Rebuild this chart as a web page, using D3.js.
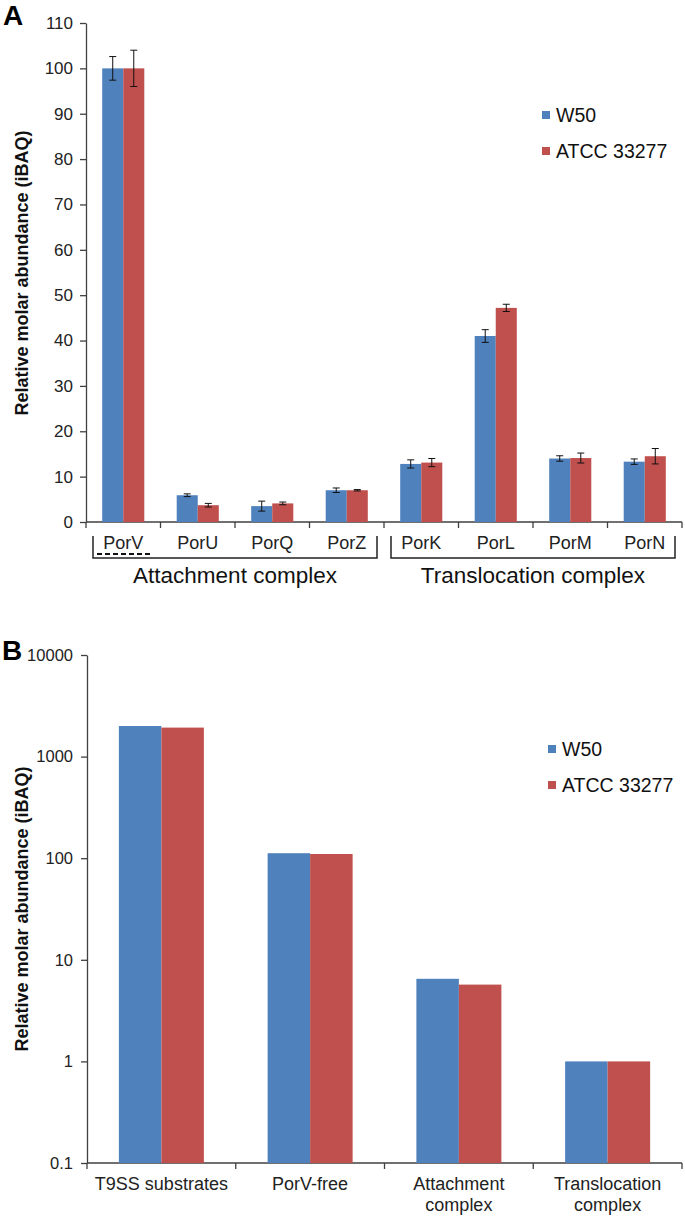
<!DOCTYPE html>
<html lang="en">
<head>
  <meta charset="UTF-8" />
  <title>Relative molar abundance of T9SS components</title>
  <style>
    body { margin: 0; background: #ffffff; font-family: "Liberation Sans", Arial, sans-serif; }
    svg { display: block; }
    .axis path, .axis line { stroke: #404040; stroke-width: 1.3px; }
    .axis text { fill: #222; font-family: "Liberation Sans", Arial, sans-serif; }
    .err { stroke: #111; stroke-width: 1px; }
  </style>
  <script src="https://d3js.org/d3.v7.min.js"></script>
</head>
<body>
  <svg id="chart" width="685" height="1216"></svg>
  <script>
    const series = ["W50", "ATCC 33277"];
    const colors = ["#4F81BD", "#C0504D"];

    // Panel A: individual components (linear, with error bars)
    const catsA = ["PorV", "PorU", "PorQ", "PorZ", "PorK", "PorL", "PorM", "PorN"];
    const w50A = [100, 5.9, 3.5, 7.0, 12.8, 41.0, 14.0, 13.3];
    const w50ErrA = [2.6, 0.3, 1.1, 0.5, 0.9, 1.4, 0.6, 0.6];
    const atccA = [100, 3.7, 4.1, 7.0, 13.1, 47.2, 14.1, 14.5];
    const atccErrA = [4.0, 0.4, 0.3, 0.15, 0.9, 0.8, 1.1, 1.7];
    const ticksA = [0, 10, 20, 30, 40, 50, 60, 70, 80, 90, 100, 110];

    // Panel B: summed groups (log scale)
    const catsB = [["T9SS substrates"], ["PorV-free"], ["Attachment", "complex"], ["Translocation", "complex"]];
    const w50B = [2000, 112, 6.5, 1.0];
    const atccB = [1930, 110, 5.7, 1.0];
    const ticksB = [0.1, 1, 10, 100, 1000, 10000];

    const svg = d3.select("#chart");

    function yTitle(cy) {
      svg.append("text")
        .attr("transform", `translate(28,${cy}) rotate(-90)`)
        .attr("text-anchor", "middle")
        .attr("font-weight", "bold")
        .attr("font-size", 18)
        .attr("fill", "#111")
        .text("Relative molar abundance (iBAQ)");
    }

    function legend(x, y0) {
      series.forEach((s, i) => {
        const y = y0 + i * 36;
        svg.append("rect").attr("x", x).attr("y", y - 4).attr("width", 8).attr("height", 8).attr("fill", colors[i]);
        svg.append("text").attr("x", x + 14).attr("y", y + 7)
          .attr("font-size", 19.5).attr("fill", "#111").text(s);
      });
    }

    // ---------- Panel A ----------
    const xA = d3.scaleBand().domain(catsA).range([86, 682]);
    const x1A = d3.scaleBand().domain(series).range([0, xA.bandwidth()]).paddingOuter(0.77);
    const yA = d3.scaleLinear().domain([0, 110]).range([522, 23]);

    svg.append("text").attr("x", 3).attr("y", 25).attr("font-size", 28).attr("font-weight", "bold").text("A");

    svg.append("g").attr("class", "axis")
      .attr("transform", "translate(86,0)")
      .call(d3.axisLeft(yA).tickValues(ticksA).tickSize(6).tickSizeOuter(0).tickPadding(7))
      .call(g => g.selectAll("text").attr("font-size", 17));

    const xAxisA = svg.append("g").attr("class", "axis").attr("transform", "translate(0,522)");
    xAxisA.append("line").attr("x1", 86).attr("x2", 682);
    xAxisA.selectAll(".tk").data(d3.range(catsA.length + 1)).join("line")
      .attr("x1", i => 86 + i * xA.step()).attr("x2", i => 86 + i * xA.step())
      .attr("y1", 0).attr("y2", 6);
    svg.selectAll(".catA").data(catsA).join("text")
      .attr("x", d => xA(d) + xA.bandwidth() / 2).attr("y", 549)
      .attr("text-anchor", "middle").attr("font-size", 18).attr("fill", "#222").text(d => d);

    const dataA = [[w50A, w50ErrA], [atccA, atccErrA]];
    dataA.forEach(([vals, errs], si) => {
      const g = svg.append("g");
      g.selectAll("rect").data(catsA).join("rect")
        .attr("x", (d) => xA(d) + x1A(series[si]))
        .attr("width", x1A.bandwidth())
        .attr("y", (d, i) => yA(vals[i]))
        .attr("height", (d, i) => yA(0) - yA(vals[i]))
        .attr("fill", colors[si]);
      catsA.forEach((c, i) => {
        const cx = xA(c) + x1A(series[si]) + x1A.bandwidth() / 2;
        const top = yA(vals[i] + errs[i]), bot = yA(vals[i] - errs[i]);
        g.append("line").attr("class", "err").attr("x1", cx).attr("x2", cx).attr("y1", top).attr("y2", bot);
        g.append("line").attr("class", "err").attr("x1", cx - 3.5).attr("x2", cx + 3.5).attr("y1", top).attr("y2", top);
        g.append("line").attr("class", "err").attr("x1", cx - 3.5).attr("x2", cx + 3.5).attr("y1", bot).attr("y2", bot);
      });
    });

    // group brackets
    const brackets = [
      { label: "Attachment complex", from: 0, to: 3 },
      { label: "Translocation complex", from: 4, to: 7 }
    ];
    brackets.forEach(b => {
      const x0 = xA(catsA[b.from]) + 7, x1 = xA(catsA[b.to]) + xA.bandwidth() - 7;
      svg.append("path")
        .attr("d", `M${x0},536V558H${x1}V536`)
        .attr("fill", "none").attr("stroke", "#222").attr("stroke-width", 1.5);
      svg.append("text").attr("x", (x0 + x1) / 2).attr("y", 583)
        .attr("text-anchor", "middle").attr("font-size", 22.5).attr("fill", "#111").text(b.label);
    });
    // dashed underline of PorV
    svg.append("line")
      .attr("x1", xA("PorV") + 11).attr("x2", xA("PorV") + 65).attr("y1", 554).attr("y2", 554)
      .attr("stroke", "#111").attr("stroke-width", 2).attr("stroke-dasharray", "5,3");

    yTitle(273);
    legend(542, 115);

    // ---------- Panel B ----------
    const keysB = catsB.map(d => d.join(" "));
    const xB = d3.scaleBand().domain(keysB).range([87, 682]);
    const x1B = d3.scaleBand().domain(series).range([0, xB.bandwidth()]).paddingOuter(0.75);
    const yB = d3.scaleLog().domain([0.1, 10000]).range([1163, 655]);

    svg.append("text").attr("x", 2).attr("y", 660).attr("font-size", 28).attr("font-weight", "bold").text("B");

    svg.append("g").attr("class", "axis")
      .attr("transform", "translate(87,0)")
      .call(d3.axisLeft(yB).tickValues(ticksB).tickFormat(d => String(d)).tickSize(6).tickSizeOuter(0).tickPadding(8))
      .call(g => g.selectAll("text").attr("font-size", 16.5));

    const xAxisB = svg.append("g").attr("class", "axis").attr("transform", "translate(0,1163)");
    xAxisB.append("line").attr("x1", 87).attr("x2", 682);
    xAxisB.selectAll(".tk").data(d3.range(keysB.length + 1)).join("line")
      .attr("x1", i => 87 + i * xB.step()).attr("x2", i => 87 + i * xB.step())
      .attr("y1", 0).attr("y2", 6);

    [w50B, atccB].forEach((vals, si) => {
      svg.append("g").selectAll("rect").data(keysB).join("rect")
        .attr("x", d => xB(d) + x1B(series[si]))
        .attr("width", x1B.bandwidth())
        .attr("y", (d, i) => yB(vals[i]))
        .attr("height", (d, i) => yB(0.1) - yB(vals[i]))
        .attr("fill", colors[si]);
    });

    catsB.forEach((lines, i) => {
      const t = svg.append("text").attr("x", xB(keysB[i]) + xB.bandwidth() / 2).attr("y", 1190)
        .attr("text-anchor", "middle").attr("font-size", 18).attr("fill", "#222");
      lines.forEach((ln, j) => {
        t.append("tspan").attr("x", xB(keysB[i]) + xB.bandwidth() / 2).attr("dy", j === 0 ? 0 : 20.5).text(ln);
      });
    });

    yTitle(909);
    legend(548, 749);
  </script>
</body>
</html>
